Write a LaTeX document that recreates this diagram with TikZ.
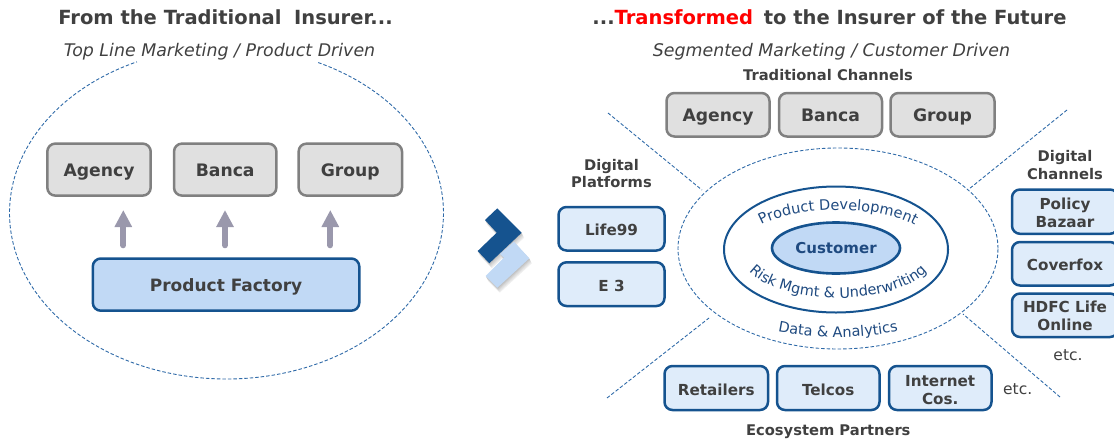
\documentclass[tikz,border=0pt]{standalone}
\usepackage{fontspec}
\setmainfont{DejaVu Sans}
\usetikzlibrary{arrows.meta,decorations.text,shapes.geometric}
\definecolor{ink}{HTML}{404040}
\definecolor{navy}{HTML}{15538F}
\definecolor{navytext}{HTML}{1F4A80}
\definecolor{paleblue}{HTML}{DFECFA}
\definecolor{midblue}{HTML}{C1D9F5}
\definecolor{greyfill}{HTML}{E0E0E0}
\definecolor{greyline}{HTML}{808080}
\definecolor{dashblue}{HTML}{2F6AA8}
\definecolor{arrowgrey}{HTML}{9A98AC}
\newcommand\curvefont{\fontsize{14.5}{16}\selectfont}
\newcommand\capstrut{\rule[-3pt]{0pt}{20pt}}
\tikzset{
 x=1pt,y=-1pt,
 boxbase/.style={rounded corners=8pt,line width=2.5pt,outer sep=0pt,align=center,font=\fontsize{17.2}{18}\selectfont\bfseries,text=ink,inner sep=0pt,anchor=north west,execute at begin node=\capstrut,execute at end node=\capstrut},
 greybox/.style={boxbase,draw=greyline,fill=greyfill},
 bluebox/.style={boxbase,draw=navy,fill=paleblue,font=\fontsize{15.2}{18}\selectfont\bfseries},
 boxtext/.style={align=center,font=\fontsize{15.2}{18}\selectfont\bfseries,text=ink,inner sep=0pt},
 factory/.style={boxbase,draw=navy,fill=midblue,font=\fontsize{17}{18}\selectfont\bfseries},
 dashline/.style={draw=dashblue,line width=0.9pt,dash pattern=on 3.5pt off 2pt},
 title/.style={font=\fontsize{19.5}{22}\selectfont\bfseries,text=ink},
 subtitle/.style={font=\fontsize{17.4}{20}\selectfont\itshape,text=ink},
 heading/.style={font=\fontsize{14.7}{17.5}\selectfont\bfseries,text=ink,align=center},
 etc/.style={font=\fontsize{15.5}{17}\selectfont,text=ink},
 blockarrow/.style={arrowgrey,line width=6.2pt,line cap=round,-{Triangle[length=17pt,width=16.5pt]}},
}
\begin{document}
\begin{tikzpicture}
\useasboundingbox (0,0) rectangle (1114,440);
\clip (0,0) rectangle (1114,440);
% titles
\node[title] (t1) at (225.5,17) {From the Traditional\hspace{0.3em} Insurer...};
\node[title] (t2) at (829.5,17) {...\textcolor{red}{Transformed}\hspace{0.2em} to the Insurer of the Future};
\node[subtitle] (s1) at (219.5,51.5) {Top Line Marketing / Product Driven};
\node[subtitle] (s2) at (831.5,51.5) {Segmented Marketing / Customer Driven};
% left ellipse with gap at top
\draw[dashline] plot[domain=-65:245.6,samples=240,smooth] ({226.5+217*cos(\x)},{213+166*sin(\x)});
% left boxes
\node[greybox,minimum width=103.4pt,minimum height=52pt] (la) at (47.3,143.6) {Agency};
\node[greybox,minimum width=102.4pt,minimum height=52pt] (lb) at (174,143.6) {Banca};
\node[greybox,minimum width=103.4pt,minimum height=52pt] (lg) at (298.6,143.6) {Group};
\node[factory,minimum width=266.5pt,minimum height=52.2pt] (pf) at (92.8,258.5) {Product Factory};
\coordinate (a1s) at (123.3,245.2); \coordinate (a1e) at (123.3,210);
\coordinate (a2s) at (225,245.2); \coordinate (a2e) at (225,210);
\coordinate (a3s) at (330.3,245.2); \coordinate (a3e) at (330.3,210);
\draw[blockarrow] (a1s) -- (a1e);
\draw[blockarrow] (a2s) -- (a2e);
\draw[blockarrow] (a3s) -- (a3e);
% logo
\foreach \o/\k in {5/6,4/10,3/14,2/19,1/24}{
 \fill[black!\k] (497.3+0.5*\o,208.3+\o) -- (521.7+0.5*\o,232.7+\o) -- (489.3+0.5*\o,263.3+\o) -- (477.7+0.5*\o,251+\o) -- (496.7+0.5*\o,232.7+\o) -- (485+0.5*\o,220+\o) -- cycle;
 \fill[black!\k] (514+0.5*\o,241.7+\o) -- (529.3+0.5*\o,258.3+\o) -- (497.3+0.5*\o,287.7+\o) -- (485.7+0.5*\o,276+\o) -- (504+0.5*\o,257.7+\o) -- (500+0.5*\o,254+\o) -- cycle;
}
\fill[midblue] (514,241.7) -- (529.3,258.3) -- (497.3,287.7) -- (485.7,276) -- (504,257.7) -- (500,254) -- cycle;
\fill[navy] (497.3,208.3) -- (521.7,232.7) -- (489.3,263.3) -- (477.7,251) -- (496.7,232.7) -- (485,220) -- cycle;
% right side
\node[heading] (tc) at (828,75) {Traditional Channels};
\node[greybox,minimum width=103pt,minimum height=43.5pt] (ra) at (666.5,93) {Agency};
\node[greybox,minimum width=103pt,minimum height=43.5pt] (rb) at (779,93) {Banca};
\node[greybox,minimum width=104pt,minimum height=43.5pt] (rg) at (890.5,93) {Group};
\node[heading] (dp) at (611.5,173.5) {Digital\\Platforms};
\node[bluebox,minimum width=106pt,minimum height=43.5pt] (life) at (558.5,207) {Life99};
\node[bluebox,minimum width=106pt,minimum height=43.7pt] (e3) at (558.5,262.3) {E 3};
\node[heading] (dc) at (1065,165) {Digital\\Channels};
\node[bluebox,minimum width=106pt,minimum height=44.3pt] (pb) at (1012,189.5) {};
\node[boxtext] (pbt) at (1065,212.5) {Policy\\Bazaar};
\node[bluebox,minimum width=106pt,minimum height=43.5pt] (cf) at (1012,242) {Coverfox};
\node[bluebox,minimum width=106pt,minimum height=43.5pt] (hd) at (1012,293.5) {};
\node[boxtext] (hdt) at (1065,316) {HDFC Life\\Online};
\node[etc] (e1) at (1068,355) {etc.};
\node[bluebox,minimum width=103.5pt,minimum height=44pt] (re) at (664.5,366) {Retailers};
\node[bluebox,minimum width=102.5pt,minimum height=44pt] (te) at (777,366) {Telcos};
\node[bluebox,minimum width=102.5pt,minimum height=44pt] (in) at (889,366) {};
\node[boxtext] (int) at (940.2,390) {Internet\\Cos.};
\node[etc] (e2) at (1017.7,389) {etc.};
\node[heading] (ep) at (828.3,431.5) {Ecosystem Partners};
% ellipses
\node[ellipse,dashline,minimum width=320pt,minimum height=201pt,inner sep=0pt] (outer) at (838,248.5) {};
\node[ellipse,draw=navy,line width=2pt,minimum width=224pt,minimum height=126pt,inner sep=0pt] (mid) at (836,249.5) {};
\node[ellipse,draw=navy,line width=2.6pt,fill=midblue,minimum width=128pt,minimum height=51pt,inner sep=0pt,font=\fontsize{15}{16}\selectfont\bfseries,text=navytext] (cu) at (836,248) {\rule[-2pt]{0pt}{15pt}Customer};
% dashed dividers
\coordinate (d1a) at (608,113); \coordinate (d1b) at (702,190);
\coordinate (d2a) at (1067,110); \coordinate (d2b) at (969,189);
\coordinate (d3a) at (607,398); \coordinate (d3b) at (709,318);
\coordinate (d4a) at (1060,397); \coordinate (d4b) at (963,314);
\draw[dashline] (d1a) -- (d1b);
\draw[dashline] (d2a) -- (d2b);
\draw[dashline] (d3a) -- (d3b);
\draw[dashline] (d4a) -- (d4b);
% curved labels
\path[decorate,decoration={text along path,text align=center,text color=navytext,text={|\curvefont|Product Development}}] (743.5,249) .. controls (743.5,197) and (932.5,197) .. (932.5,249);
\path[decorate,decoration={text along path,text align=center,text color=navytext,text={|\curvefont|Risk Mgmt {\&} Underwriting}}] (740,249) .. controls (740,314.3) and (936,314.3) .. (936,249);
\path[decorate,decoration={text along path,text align=center,text color=navytext,text={|\curvefont|Data {\&} Analytics}}] (680,250) .. controls (680,366) and (996,366) .. (996,250);
\end{tikzpicture}
\end{document}
